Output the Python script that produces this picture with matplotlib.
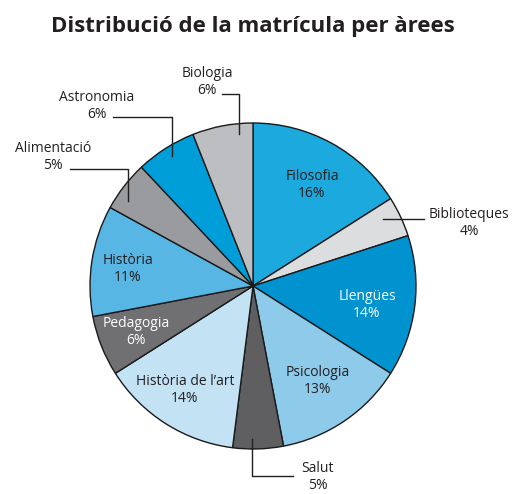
import matplotlib
matplotlib.use("Agg")
import matplotlib.pyplot as plt

categories = ["Filosofia", "Biblioteques", "Llengües", "Psicologia", "Salut",
              "Història de l’art", "Pedagogia", "Història", "Alimentació",
              "Astronomia", "Biologia"]
values = [16, 4, 14, 13, 5, 14, 6, 11, 5, 6, 6]
colors = ["#1ba9de", "#dcdddf", "#0093d0", "#8ecbeb", "#5f5f61", "#c3e3f5",
          "#707072", "#58b6e4", "#9a9b9e", "#009ed8", "#bdbec2"]
title = "Distribució de la matrícula per àrees"

W, H = 513, 494
fig = plt.figure(figsize=(W / 100, H / 100), dpi=100)
ax = fig.add_axes([0, 0, 1, 1])

def P(x, y):
    return x, H - y

cx, cy = P(253, 286)
R = 163
ax.pie(values, colors=colors, startangle=90, counterclock=False,
       center=(cx, cy), radius=R, frame=True,
       wedgeprops=dict(edgecolor="#1a1a1a", linewidth=1.0))
ax.set_xlim(0, W)
ax.set_ylim(0, H)
ax.set_aspect("equal")
ax.axis("off")

FONT = "Open Sans"
TXT = "#231f20"
fs = 10
ls = 1.22

# inside labels: (x, y, color)
inside = {
    "Filosofia": (312, 185, TXT),
    "Llengües": (367, 305, "white"),
    "Psicologia": (318, 381, TXT),
    "Història de l’art": (185, 390, TXT),
    "Pedagogia": (136, 332, "white"),
    "Història": (128, 269, TXT),
}
# outside labels: (x, y, leader path)
outside = {
    "Biblioteques": (469, 223, [(383, 219), (424, 219)]),
    "Salut": (318, 477, [(252, 439), (252, 476), (293, 476)]),
    "Biologia": (207, 82, [(222, 94), (239, 94), (239, 134)]),
    "Astronomia": (97, 106, [(113, 117), (172, 117), (172, 156)]),
    "Alimentació": (53, 157, [(70, 169), (128, 169), (128, 201)]),
}

for cat, v in zip(categories, values):
    label = f"{cat}\n{v}%"
    if cat in inside:
        x, y, c = inside[cat]
        ax.text(*P(x, y), label, ha="center", va="center", color=c,
                fontsize=fs, family=FONT, linespacing=ls)
    else:
        x, y, path = outside[cat]
        ax.text(*P(x, y), label, ha="center", va="center", color=TXT,
                fontsize=fs, family=FONT, linespacing=ls)
        xs = [p[0] for p in path]
        ys = [H - p[1] for p in path]
        ax.plot(xs, ys, color="#231f20", linewidth=1.0)

ax.text(*P(253, 27), title, ha="center", va="center", color=TXT,
        fontsize=16, fontweight="bold", family=FONT)

fig.savefig("out.png", dpi=100)
